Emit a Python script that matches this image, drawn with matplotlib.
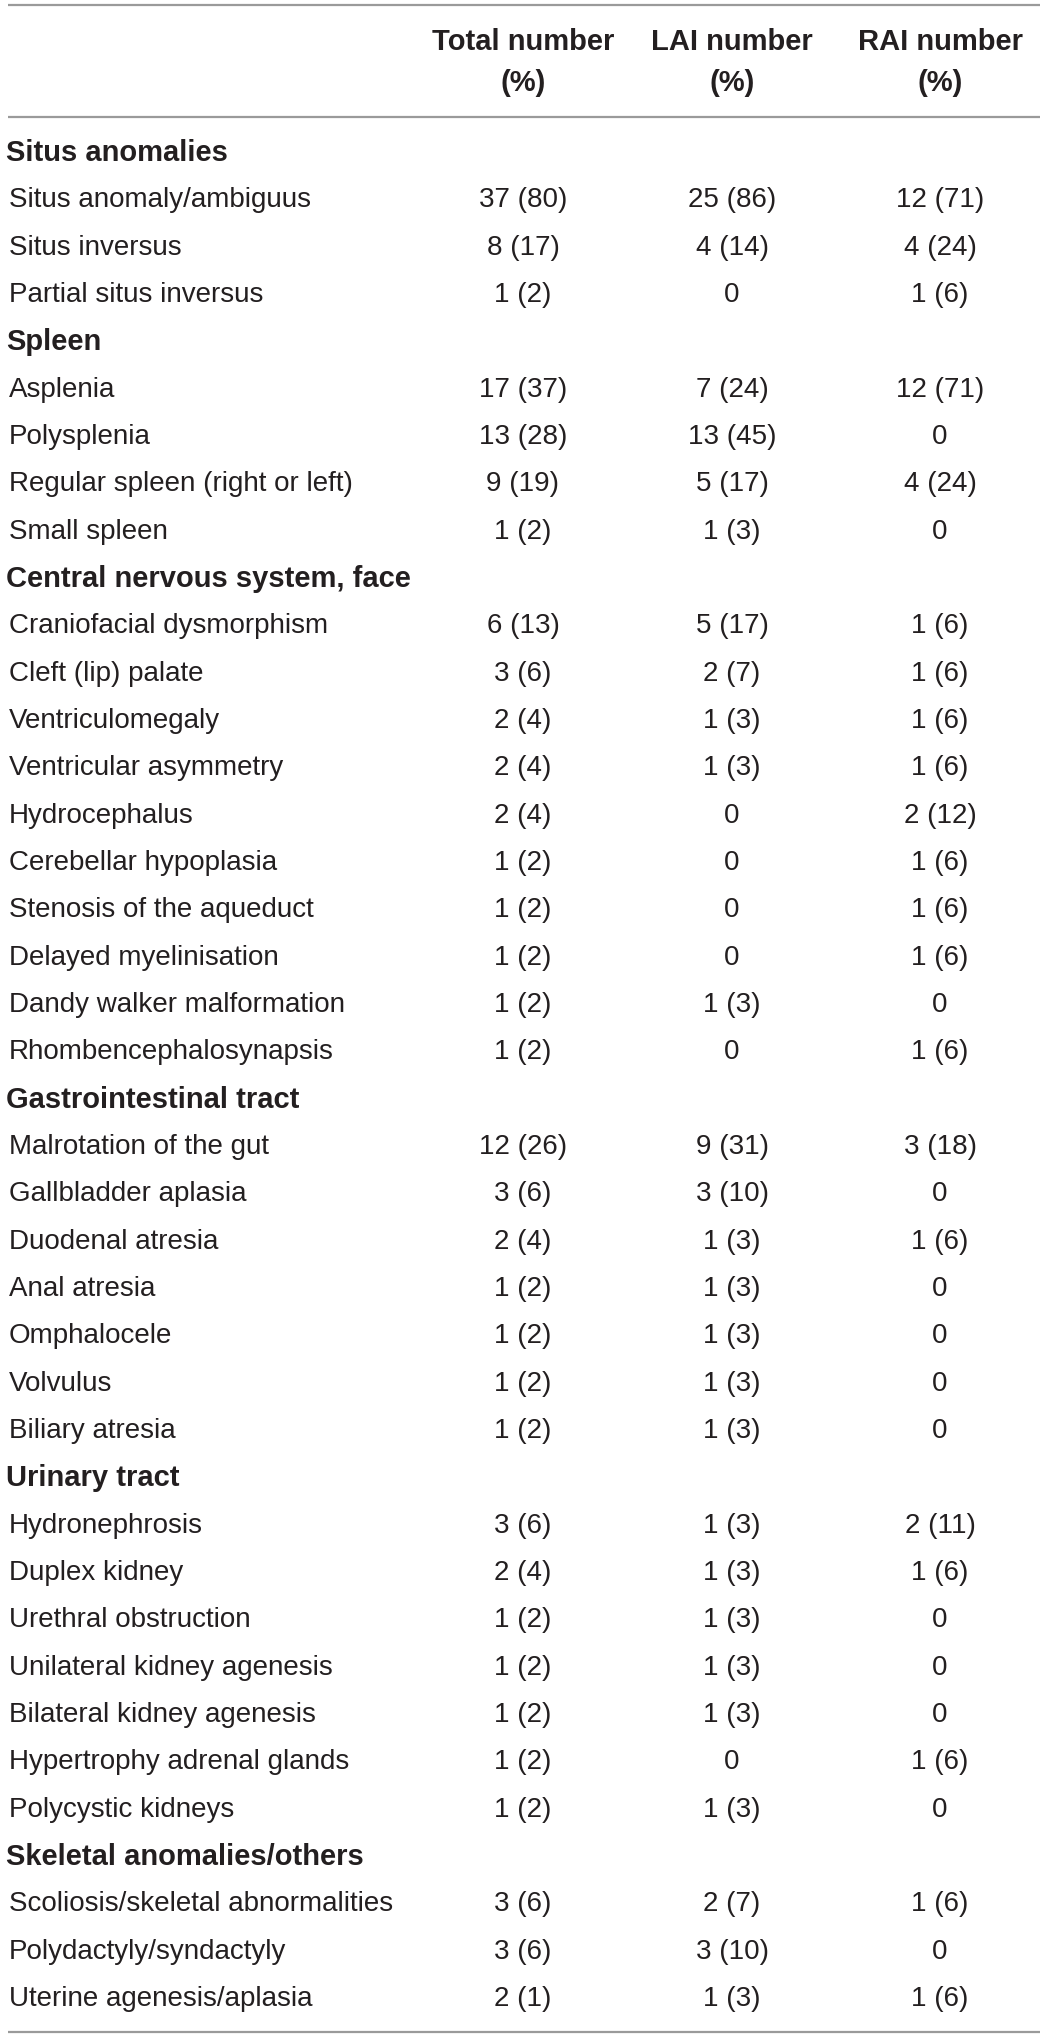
import matplotlib
matplotlib.use("Agg")
import matplotlib.pyplot as plt

# table content
headers = ["Total number\n(%)", "LAI number\n(%)", "RAI number\n(%)"]

sections = ["Situs anomalies", "Spleen", "Central nervous system, face",
            "Gastrointestinal tract", "Urinary tract", "Skeletal anomalies/others"]
section_sizes = [3, 4, 10, 7, 7, 3]

labels = [
    "Situs anomaly/ambiguus", "Situs inversus", "Partial situs inversus",
    "Asplenia", "Polysplenia", "Regular spleen (right or left)", "Small spleen",
    "Craniofacial dysmorphism", "Cleft (lip) palate", "Ventriculomegaly",
    "Ventricular asymmetry", "Hydrocephalus", "Cerebellar hypoplasia",
    "Stenosis of the aqueduct", "Delayed myelinisation",
    "Dandy walker malformation", "Rhombencephalosynapsis",
    "Malrotation of the gut", "Gallbladder aplasia", "Duodenal atresia",
    "Anal atresia", "Omphalocele", "Volvulus", "Biliary atresia",
    "Hydronephrosis", "Duplex kidney", "Urethral obstruction",
    "Unilateral kidney agenesis", "Bilateral kidney agenesis",
    "Hypertrophy adrenal glands", "Polycystic kidneys",
    "Scoliosis/skeletal abnormalities", "Polydactyly/syndactyly",
    "Uterine agenesis/aplasia",
]
total = [
    "37 (80)", "8 (17)", "1 (2)",
    "17 (37)", "13 (28)", "9 (19)", "1 (2)",
    "6 (13)", "3 (6)", "2 (4)", "2 (4)", "2 (4)", "1 (2)", "1 (2)", "1 (2)", "1 (2)", "1 (2)",
    "12 (26)", "3 (6)", "2 (4)", "1 (2)", "1 (2)", "1 (2)", "1 (2)",
    "3 (6)", "2 (4)", "1 (2)", "1 (2)", "1 (2)", "1 (2)", "1 (2)",
    "3 (6)", "3 (6)", "2 (1)",
]
lai = [
    "25 (86)", "4 (14)", "0",
    "7 (24)", "13 (45)", "5 (17)", "1 (3)",
    "5 (17)", "2 (7)", "1 (3)", "1 (3)", "0", "0", "0", "0", "1 (3)", "0",
    "9 (31)", "3 (10)", "1 (3)", "1 (3)", "1 (3)", "1 (3)", "1 (3)",
    "1 (3)", "1 (3)", "1 (3)", "1 (3)", "1 (3)", "0", "1 (3)",
    "2 (7)", "3 (10)", "1 (3)",
]
rai = [
    "12 (71)", "4 (24)", "1 (6)",
    "12 (71)", "0", "4 (24)", "0",
    "1 (6)", "1 (6)", "1 (6)", "1 (6)", "2 (12)", "1 (6)", "1 (6)", "1 (6)", "0", "1 (6)",
    "3 (18)", "0", "1 (6)", "0", "0", "0", "0",
    "2 (11)", "1 (6)", "0", "0", "0", "1 (6)", "0",
    "1 (6)", "0", "1 (6)",
]

W, H = 1043, 2039
fig = plt.figure(figsize=(W / 100, H / 100), dpi=100)
ax = fig.add_axes([0, 0, 1, 1])
ax.set_xlim(0, W)
ax.set_ylim(H, 0)
ax.axis("off")

plt.rcParams["font.family"] = ["Liberation Sans", "DejaVu Sans"]
fs = 20
fs_bold = 21
tcol = "#231f20"
lcol = "#9a9a9a"
col_x = [523, 732, 940]
label_x = 6

# rules
for y in [5, 117, 2032]:
    ax.plot([8, 1040], [y, y], color=lcol, lw=1.6, solid_capstyle="butt")

# header
for x, h in zip(col_x, headers):
    top, bot = h.split("\n")
    ax.text(x, 42, top, ha="center", va="center", fontsize=fs_bold, fontweight="bold", color=tcol)
    ax.text(x, 83, bot, ha="center", va="center", fontsize=fs_bold, fontweight="bold", color=tcol)

y0, step = 153, 47.33
row = 0
k = 0
for sec, n in zip(sections, section_sizes):
    y = y0 + row * step
    ax.text(label_x, y, sec, ha="left", va="center", fontsize=fs_bold, fontweight="bold", color=tcol)
    row += 1
    for i in range(n):
        y = y0 + row * step
        ax.text(label_x + 3, y, labels[k], ha="left", va="center", fontsize=fs, color=tcol)
        for x, vals in zip(col_x, [total, lai, rai]):
            ax.text(x, y, vals[k], ha="center", va="center", fontsize=fs, color=tcol)
        row += 1
        k += 1

fig.savefig("out.png", dpi=100)
